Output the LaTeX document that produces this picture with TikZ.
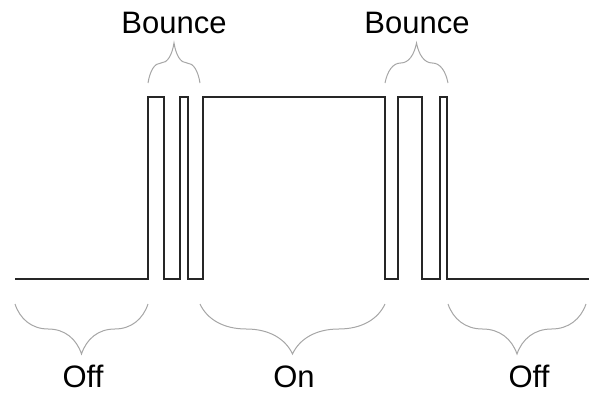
\documentclass[tikz,border=0pt]{standalone}
\usepackage{fontspec}
\setmainfont{Liberation Sans}
\usetikzlibrary{decorations.pathreplacing}
\usetikzlibrary{positioning}

\begin{document}
\begin{tikzpicture}[x=1pt,y=-1pt]
                \useasboundingbox (0,0) rectangle (589,394);

                % signal level
                \draw[line width=1.7pt, line join=miter, color=black!85]
                    (15,279) -- (148,279) -- (148,97) -- (164,97) -- (164,279)
                    -- (180,279) -- (180,97) -- (188,97) -- (188,279)
                    -- (203,279) -- (203,97) -- (385,97) -- (385,279)
                    -- (398,279) -- (398,97) -- (422,97) -- (422,279)
                    -- (440,279) -- (440,97) -- (447,97) -- (447,279) -- (589,279);

                \begin{scope}[every node/.style={inner sep=0pt, anchor=base, font=\fontsize{31}{37}\selectfont}]
                    \node (bounce1) at (174,33) {Bounce};
                    \node (bounce2) at (417,33) {Bounce};
                    \node (off1) at (83,387) {Off};
                    \node (on) at (294,387) {On};
                    \node (off2) at (529,387) {Off};
                \end{scope}

                \coordinate (b1l) at (148,83);
                \coordinate (b1r) at (200,83);
                \coordinate (b2l) at (385,83);
                \coordinate (b2r) at (448,83);
                \coordinate (o1l) at (15,304);
                \coordinate (o1r) at (148,304);
                \coordinate (onl) at (200,304);
                \coordinate (onr) at (385,304);
                \coordinate (o2l) at (448,304);
                \coordinate (o2r) at (586,304);

                \begin{scope}[color=black!35, line width=1pt]
                    \draw[decorate, decoration={brace, amplitude=40pt}] (b1l) -- (b1r);
                    \draw[decorate, decoration={brace, amplitude=40pt}] (b2l) -- (b2r);
                    \draw[decorate, decoration={brace, mirror, amplitude=50pt}] (o1l) -- (o1r);
                    \draw[decorate, decoration={brace, mirror, amplitude=50pt}] (onl) -- (onr);
                    \draw[decorate, decoration={brace, mirror, amplitude=50pt}] (o2l) -- (o2r);
                \end{scope}
            \end{tikzpicture}
\end{document}
